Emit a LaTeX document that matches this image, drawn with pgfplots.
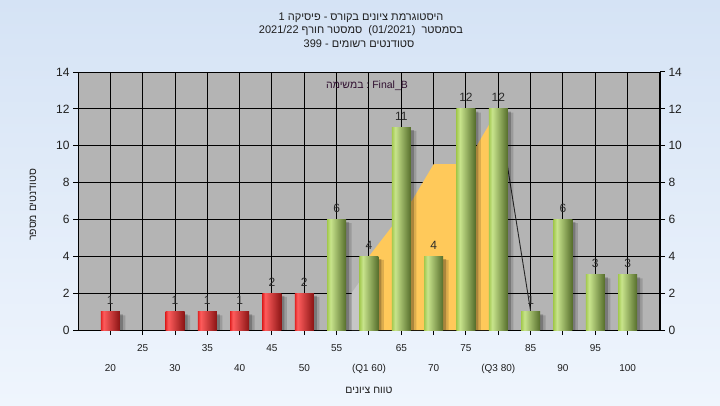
\documentclass[border=0pt]{standalone}
\usepackage{fontspec}
\setmainfont{Liberation Sans}
\newfontfamily\heb[Script=Hebrew]{Liberation Sans}
\usepackage{pgfplots}
\pgfplotsset{compat=1.18}

\definecolor{bgtop}{HTML}{D5E3F5}
\definecolor{bgbot}{HTML}{EFF5FD}
\definecolor{plotgray}{HTML}{B4B4B4}
\definecolor{areay}{HTML}{FFC95A}
\definecolor{arealight}{HTML}{C6C6C6}
\definecolor{rL}{HTML}{E02424}
\definecolor{rH}{HTML}{FF5C5C}
\definecolor{rD}{HTML}{8A1414}
\definecolor{gL}{HTML}{A4CA50}
\definecolor{gH}{HTML}{C8E48C}
\definecolor{gD}{HTML}{556D2B}
\definecolor{labc}{HTML}{2A2A2A}
\definecolor{titc}{HTML}{1E1E1E}

\pgfdeclarehorizontalshading{redbar}{100bp}{color(0bp)=(rL); color(25bp)=(rL); color(32bp)=(rH); color(75bp)=(rD); color(100bp)=(rD)}
\pgfdeclarehorizontalshading{greenbar}{100bp}{color(0bp)=(gL); color(25bp)=(gL); color(34bp)=(gH); color(75bp)=(gD); color(100bp)=(gD)}

\newcommand\w[1]{\hbox{#1}}

\pgfplotsset{
  barbase/.style={ybar, bar width=19pt, draw=none,
    nodes near coords,
    every node near coord/.append style={font=\fontsize{12}{14}\selectfont, text=labc, yshift=3.5pt}},
  redb/.style={barbase, shading=redbar},
  greenb/.style={barbase, shading=greenbar},
  shadowb/.style={ybar, bar width=19pt, draw=none, fill=black},
}

\begin{document}
\begin{tikzpicture}[x=1pt,y=1pt]
\shade[top color=bgtop, bottom color=bgbot] (0,0) rectangle (720,405);

\begin{axis}[
  at={(78pt,75pt)}, anchor=south west,
  scale only axis, width=582pt, height=258pt,
  xmin=15, xmax=105, ymin=0, ymax=14,
  axis background/.style={fill=plotgray},
  grid=major, major grid style={black, line width=1pt},
  axis line style={black, line width=1pt},
  tick align=outside, major tick length=5pt,
  tick style={black, line width=1pt},
  xtick={20,30,...,100},
  xticklabels={20,30,40,50,(Q1 60),70,(Q3 80),90,100},
  extra x ticks={25,35,...,95},
  extra x tick labels={25,35,45,55,65,75,85,95},
  extra x tick style={grid=major, xticklabel style={yshift=20pt}},
  xticklabel style={font=\fontsize{10}{12}\selectfont, text=titc, yshift=-26pt},
  ytick={0,2,...,14},
  yticklabel style={font=\fontsize{12}{14}\selectfont, text=titc},
  xtick pos=bottom, ytick pos=left,
  clip=false,
  /pgf/number format/assume math mode=true,
]
\addplot[fill=arealight, draw=none] coordinates {(57.3,0) (57.3,2) (58.5,2.6) (58.5,0)};
\addplot[fill=areay, draw=none] coordinates {(58.5,0) (58.5,3.3) (60,4) (66.7,7.05) (70,9) (75,9) (80,12) (80,0)};
\addplot[black!85, line width=0.9pt] coordinates {(80,12) (85,1)};

% soft shadows
\addplot[shadowb, bar shift=3pt, fill opacity=0.22]
  coordinates {(20,0.85) (30,0.85) (35,0.85) (40,0.85) (45,1.85) (50,1.85)
  (55,5.85) (60,3.85) (65,10.85) (70,3.85) (75,11.85) (80,11.85) (85,0.85) (90,5.85) (95,2.85) (100,2.85)};
\addplot[shadowb, bar shift=5.5pt, fill opacity=0.14]
  coordinates {(20,0.8) (30,0.8) (35,0.8) (40,0.8) (45,1.8) (50,1.8)
  (55,5.8) (60,3.8) (65,10.8) (70,3.8) (75,11.8) (80,11.8) (85,0.8) (90,5.8) (95,2.8) (100,2.8)};

\addplot[redb] coordinates {(20,1)};
\addplot[redb] coordinates {(30,1)};
\addplot[redb] coordinates {(35,1)};
\addplot[redb] coordinates {(40,1)};
\addplot[redb] coordinates {(45,2)};
\addplot[redb] coordinates {(50,2)};
\addplot[greenb] coordinates {(55,6)};
\addplot[greenb] coordinates {(60,4)};
\addplot[greenb] coordinates {(65,11)};
\addplot[greenb] coordinates {(70,4)};
\addplot[greenb] coordinates {(75,12)};
\addplot[greenb] coordinates {(80,12)};
\addplot[greenb] coordinates {(85,1)};
\addplot[greenb] coordinates {(90,6)};
\addplot[greenb] coordinates {(95,3)};
\addplot[greenb] coordinates {(100,3)};
\end{axis}

\begin{axis}[
  at={(78pt,75pt)}, anchor=south west,
  scale only axis, width=582pt, height=258pt,
  xmin=15, xmax=105, ymin=0, ymax=14,
  hide x axis,
  axis y line*=right,
  axis line style={black, line width=1pt},
  tick align=outside, major tick length=5pt,
  tick style={black, line width=1pt},
  ytick={0,2,...,14},
  yticklabel style={font=\fontsize{12}{14}\selectfont, text=titc},
  /pgf/number format/assume math mode=true,
]
\end{axis}

\node[font=\heb\fontsize{11}{12}\selectfont, text=titc] at (361,387) {\w{1}\ \w{פיסיקה}\ \w{-}\ \w{בקורס}\ \w{ציונים}\ \w{היסטוגרמת}};
\node[font=\heb\fontsize{11}{12}\selectfont, text=titc] at (361,374) {\w{2021/22}\ \w{חורף}\ \w{סמסטר}\ \ \w{(01/2021)}\ \ \w{בסמסטר}};
\node[font=\heb\fontsize{11}{12}\selectfont, text=titc] at (359,361) {\w{399}\ \w{-}\ \w{רשומים}\ \w{סטודנטים}};
\node[font=\heb\fontsize{10.5}{12}\selectfont, text={rgb,255:red,48;green,16;blue,48}] at (367,319) {\w{במשימה}\ \w{:}\ \w{Final\_B}};
\node[font=\heb\fontsize{10.5}{12}\selectfont, text=titc] at (369,15) {\w{ציונים}\ \w{טווח}};
\node[font=\heb\fontsize{10.5}{12}\selectfont, text=titc, rotate=90] at (33,200) {\w{מספר}\ \w{סטודנטים}};
\end{tikzpicture}
\end{document}
